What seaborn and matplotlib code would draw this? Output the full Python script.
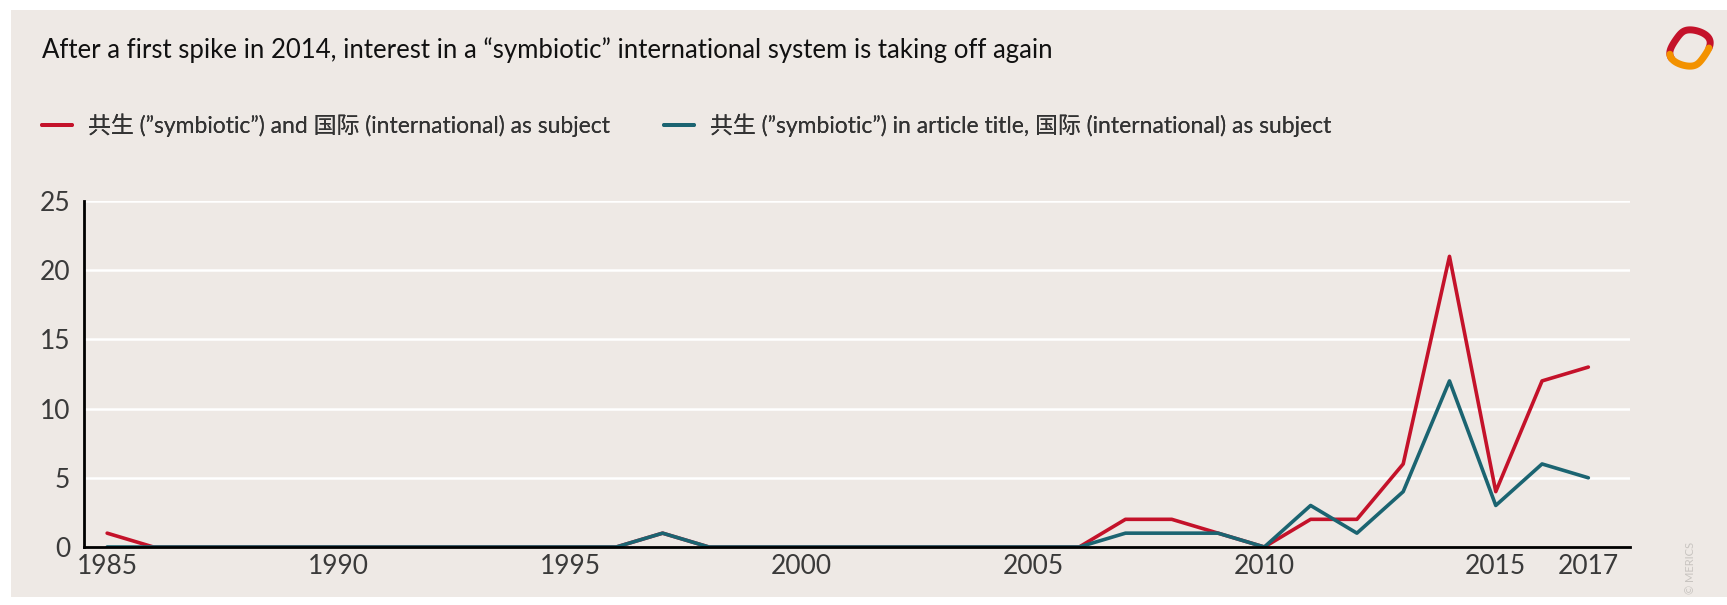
import numpy as np
import pandas as pd
import matplotlib
matplotlib.use("Agg")
import matplotlib.pyplot as plt
import seaborn as sns
from matplotlib.lines import Line2D

years = list(range(1985, 2018))
symbiotic_subject = [1, 0, 0, 0, 0, 0, 0, 0, 0, 0, 0, 0, 1, 0, 0, 0, 0, 0, 0, 0, 0, 0,
                     2, 2, 1, 0, 2, 2, 6, 21, 4, 12, 13]
symbiotic_title = [0, 0, 0, 0, 0, 0, 0, 0, 0, 0, 0, 0, 1, 0, 0, 0, 0, 0, 0, 0, 0, 0,
                   1, 1, 1, 0, 3, 1, 4, 12, 3, 6, 5]
series_names = ["共生 (\u201dsymbiotic\u201d) and 国际 (international) as subject",
                "共生 (\u201dsymbiotic\u201d) in article title, 国际 (international) as subject"]
colors = ["#C4122A", "#1B6471"]
xtick_years = [1985, 1990, 1995, 2000, 2005, 2010, 2015, 2017]
yticks = [0, 5, 10, 15, 20, 25]
title = "After a first spike in 2014, interest in a \u201csymbiotic\u201d international system is taking off again"

df = pd.DataFrame({
    "year": years * 2,
    "value": symbiotic_subject + symbiotic_title,
    "series": [series_names[0]] * len(years) + [series_names[1]] * len(years),
})

sns.set_theme(style="white")
plt.rcParams['font.family'] = ['Lato', 'Noto Sans CJK SC', 'DejaVu Sans']

bg = "#EEE9E5"
fig = plt.figure(figsize=(17.27, 6.05), dpi=100)
fig.patch.set_facecolor("white")
fig.add_artist(plt.Rectangle((11 / 1727, 8 / 605), 1 - 11 / 1727, 1 - 18 / 605,
                             transform=fig.transFigure, facecolor=bg, edgecolor="none", zorder=0))

ax = fig.add_axes([84 / 1727, 58 / 605, (1630 - 84) / 1727, 346 / 605])
ax.set_facecolor(bg)
ax.patch.set_alpha(0)

sns.lineplot(data=df, x="year", y="value", hue="series", palette=colors,
             linewidth=2.6, ax=ax, legend=False, zorder=3)

ax.set_xlim(1984.5, 2017.9)
ax.set_ylim(0, 25)
ax.set_xticks(xtick_years)
ax.set_xticklabels([str(y) for y in xtick_years])
ax.set_yticks(yticks)
ax.set_xlabel("")
ax.set_ylabel("")
for y in yticks[1:]:
    ax.axhline(y, color="white", linewidth=1.8, zorder=1)
for s in ["top", "right"]:
    ax.spines[s].set_visible(False)
for s in ["left", "bottom"]:
    ax.spines[s].set_color("black")
    ax.spines[s].set_linewidth(2.0)
    ax.spines[s].set_zorder(4)
ax.tick_params(axis="both", length=0, labelsize=19, labelcolor="#3a3a3a")
ax.tick_params(axis="y", pad=10)
ax.tick_params(axis="x", pad=5)

fig.text(42 / 1727, 1 - 50 / 605, title, fontsize=18.5, color="#111111", va="center", ha="left")

for i, xpos in enumerate([42, 664]):
    leg = fig.legend([Line2D([0], [0], color=colors[i], linewidth=2.8)], [series_names[i]],
                     loc="center left", bbox_to_anchor=(xpos / 1727, 1 - 125 / 605),
                     frameon=False, fontsize=16.5, handlelength=1.3, handletextpad=0.7,
                     borderaxespad=0, borderpad=0, labelcolor="#333333")
    fig.add_artist(leg)

fig.text(1691 / 1727, 1 - 568 / 605, "© MERICS", rotation=90, fontsize=8, color="#C8C4C0",
         ha="center", va="center")

# logo approximation
lx, ly = 1690 / 1727, 1 - 48 / 605
t = np.linspace(0, 2 * np.pi, 100)
xs = lx + 0.011 * np.cos(t) * (1 + 0.2 * np.sin(2 * t))
ys = ly + 0.03 * np.sin(t)
fig.add_artist(Line2D(xs[:60], ys[:60], transform=fig.transFigure, color="#C4122A", linewidth=5))
fig.add_artist(Line2D(xs[55:], ys[55:], transform=fig.transFigure, color="#F39200", linewidth=5))

fig.savefig("out.png", dpi=100, facecolor=fig.get_facecolor())
